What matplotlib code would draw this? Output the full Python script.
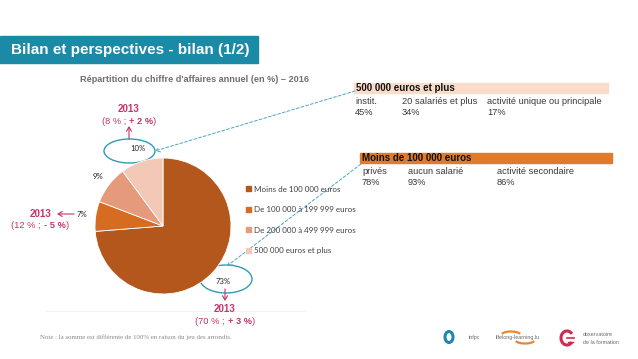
import matplotlib
matplotlib.use("Agg")
import matplotlib.pyplot as plt
from matplotlib.patches import Rectangle, Ellipse, Arc, FancyArrowPatch
from matplotlib.lines import Line2D

# ---------------- data ----------------
categories = ["Moins de 100 000 euros", "De 100 000 à 199 999 euros",
              "De 200 000 à 499 999 euros", "500 000 euros et plus"]
shares_2016 = [73, 7, 9, 10]
slice_colors = ["#B4571C", "#D56C22", "#E49A7B", "#F3C8B7"]

title = "Bilan et perspectives - bilan (1/2)"
subtitle = "Répartition du chiffre d'affaires annuel (en %) – 2016"

box1_title = "500 000 euros et plus"
box1_labels = ["instit.", "20 salariés et plus", "activité unique ou principale"]
box1_values = ["45%", "34%", "17%"]

box2_title = "Moins de 100 000 euros"
box2_labels = ["privés", "aucun salarié", "activité secondaire"]
box2_values = ["78%", "93%", "86%"]

share_2013 = {"10%": ("8 %", "+ 2 %"), "7%": ("12 %", "- 5 %"), "73%": ("70 %", "+ 3 %")}

note = "Note : la somme est différente de 100% en raison du jeu des arrondis."

# ---------------- figure ----------------
W, H = 638, 359
fig = plt.figure(figsize=(W / 100, H / 100), dpi=100)
fig.patch.set_facecolor("white")

ov = fig.add_axes([0, 0, 1, 1])
ov.set_xlim(0, W)
ov.set_ylim(H, 0)
ov.axis("off")

SANS = "Liberation Sans"
CAL = "Lato"
RED = "#C2356A"
TEAL = "#2F9BB7"

# title banner
ov.add_patch(Rectangle((0, 36), 258, 27, color="#1A8AA7", zorder=1))
ov.text(11, 50, title, color="white", fontsize=11, fontweight="bold",
        family=SANS, va="center", ha="left", zorder=2)

# subtitle
ov.text(80, 80, subtitle, color="#707070", fontsize=6.6, fontweight="bold",
        family=SANS, va="center", ha="left")

# ---------------- pie ----------------
cx, cy, r = 163, 226, 68
pax = fig.add_axes([(cx - r) / W, 1 - (cy + r) / H, 2 * r / W, 2 * r / H])
wedges, texts = pax.pie(shares_2016, colors=slice_colors, startangle=90,
                        counterclock=False, labels=[f"{v}%" for v in shares_2016],
                        labeldistance=1.2,
                        wedgeprops=dict(edgecolor="white", linewidth=0.6))
for t in texts:
    t.set_ha("center")
    t.set_va("center")
    t.set_fontsize(5.6)
    t.set_family(CAL)
    t.set_color("#222222")
pax.set_xlim(-1, 1)
pax.set_ylim(-1, 1)
pax.set_aspect("auto")
pax.axis("off")

# legend
handles = [Rectangle((0, 0), 1, 1, color=c) for c in slice_colors]
leg = fig.legend(handles, categories, loc="upper left",
                 bbox_to_anchor=(246 / W, 1 - 185.5 / H), frameon=False,
                 prop=dict(family=CAL, size=5.8), handlelength=0.65,
                 handleheight=0.65, handletextpad=0.4, labelspacing=1.68,
                 borderaxespad=0, borderpad=0)
for t in leg.get_texts():
    t.set_color("#404040")

# ---------------- info boxes ----------------
def info_box(x0, x1, y0, y1, color, head, labels, values, xs):
    ov.add_patch(Rectangle((x0, y0), x1 - x0, y1 - y0, color=color, zorder=1))
    ov.text(x0 + 1.5, (y0 + y1) / 2 + 0.3, head, fontsize=7.0, fontweight="bold",
            family=SANS, va="center", ha="left", color="#111111", zorder=2)
    for lab, val, x in zip(labels, values, xs):
        ov.text(x, y1 + 8.5, lab, fontsize=6.7, family=SANS, va="center",
                ha="left", color="#3a3a3a")
        ov.text(x, y1 + 19.5, val, fontsize=6.7, family=SANS, va="center",
                ha="left", color="#3a3a3a")

info_box(354, 608, 83, 93, "#FADCCB", box1_title, box1_labels, box1_values,
         [355, 402, 487])
info_box(360, 612, 152.5, 163, "#E07A2C", box2_title, box2_labels, box2_values,
         [362, 408, 497])

# ellipses
ov.add_patch(Ellipse((129.5, 151), 51, 24, fill=False, edgecolor=TEAL, lw=1.0))
ov.add_patch(Ellipse((226, 279), 52, 28, fill=False, edgecolor=TEAL, lw=1.0))

# dashed connectors
for (xa, ya), (xb, yb) in [((355, 91), (155, 151)), ((361, 164), (227, 266))]:
    ov.add_patch(FancyArrowPatch((xa, ya), (xb, yb),
                                 arrowstyle="->,head_length=3,head_width=1.8",
                                 color="#4AA7C4", lw=0.7, linestyle=(0, (3, 2)),
                                 shrinkA=0, shrinkB=0))

# red arrows
for (xa, ya), (xb, yb) in [((129, 139), (129, 126)), ((74, 214), (57, 214)),
                           ((225, 289), (225, 301))]:
    ov.add_patch(FancyArrowPatch((xa, ya), (xb, yb),
                                 arrowstyle="->,head_length=3,head_width=1.8",
                                 color=RED, lw=0.8, shrinkA=0, shrinkB=0))

# 2013 annotations with mixed bold
fig.canvas.draw()
renderer = fig.canvas.get_renderer()

def mixed_line(xc, y, parts, size=6.7):
    arts = []
    for txt, bold in parts:
        t = ov.text(0, y, txt, fontsize=size, family=SANS, color=RED,
                    fontweight="bold" if bold else "normal", va="center", ha="left")
        arts.append(t)
    widths = [t.get_window_extent(renderer).width for t in arts]
    x = xc - sum(widths) / 2
    for t, w in zip(arts, widths):
        t.set_x(x)
        x += w

for key, (xc, y) in zip(["10%", "7%", "73%"], [(129, 109), (40, 214), (225, 309)]):
    old, delta = share_2013[key]
    ov.text(xc, y, "2013", fontsize=7, fontweight="bold", family=SANS,
            color=RED, ha="center", va="center")
    mixed_line(xc, y + 12, [(f"({old} ; ", False), (delta, True), (")", False)])

# separator & note
ov.add_line(Line2D([45, 305], [310.5, 310.5], color="#f0f0f0", lw=0.6))
ov.text(40, 337, note, fontsize=4.95, family="Liberation Serif", color="#8a8a8a",
        va="center", ha="left")

# logos (y axis inverted: theta 180-360 is the upper half on screen)
ov.add_patch(Ellipse((449, 337), 8, 11, fill=False, edgecolor="#1E88B0", lw=2.2))
ov.text(469, 337, "infpc", fontsize=3.9, family=SANS, color="#6a6a6a", va="center")
ov.add_patch(Arc((511, 335.5), 20, 8, theta1=190, theta2=350, edgecolor="#E8872E", lw=1.6))
ov.add_patch(Arc((525, 339.5), 20, 8, theta1=10, theta2=170, edgecolor="#E8872E", lw=1.6))
ov.text(496, 337.5, "lifelong-learning.lu", fontsize=3.9, family=SANS,
        color="#6a6a6a", va="center")
ov.add_patch(Arc((567, 338), 12, 14, theta1=40, theta2=320, edgecolor="#D0284F", lw=2.2))
ov.add_line(Line2D([567, 574], [338, 338], color="#D0284F", lw=1.2))
ov.add_line(Line2D([568, 573], [342, 342], color="#D0284F", lw=1.0))
ov.text(583, 335, "observatoire", fontsize=3.9, family=SANS, color="#6a6a6a", va="center")
ov.text(583, 343, "de la formation", fontsize=3.9, family=SANS, color="#6a6a6a", va="center")

fig.savefig("out.png", dpi=100, facecolor="white")
